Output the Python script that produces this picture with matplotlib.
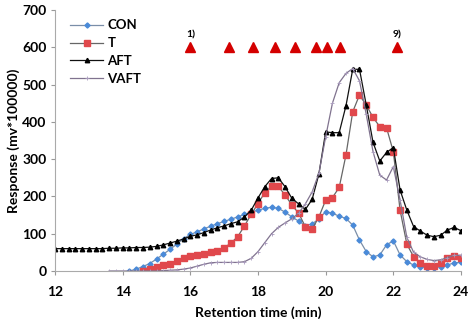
import numpy as np
import matplotlib
matplotlib.use("Agg")
import matplotlib.pyplot as plt

plt.rcParams['font.family'] = ['Lato', 'DejaVu Sans']
plt.rcParams['font.weight'] = 'bold'

# retention time grids (min)
t_con = np.round(np.arange(14.2, 24.01, 0.2), 1)
t_t = np.round(np.arange(14.6, 24.01, 0.2), 1)
t_aft = np.round(np.arange(12.0, 24.01, 0.2), 1)
t_vaft = np.round(np.arange(13.6, 24.01, 0.2), 1)

# responses (mv*100000)
con = [0, 5, 12, 20, 32, 45, 58, 72, 87, 98,
       105, 113, 120, 127, 133, 139, 145, 152, 158, 163,
       168, 171, 168, 158, 145, 134, 122, 126, 140, 159,
       155, 147, 141, 123, 83, 52, 38, 43, 70, 81,
       43, 25, 16, 12, 8, 8, 12, 16, 22, 23]
t_resp = [0, 6, 10, 16, 20, 27, 35, 41, 44, 46,
          50, 54, 62, 75, 92, 121, 152, 181, 210, 228,
          227, 204, 177, 155, 119, 112, 145, 190, 197, 224,
          311, 427, 472, 445, 412, 387, 384, 320, 163, 72,
          38, 22, 13, 13, 22, 35, 40, 36]
aft = [60, 60, 60, 60, 60, 60, 60, 60, 61, 61,
       62, 62, 63, 63, 64, 66, 70, 75, 80, 86,
       93, 97, 103, 110, 116, 121, 127, 132, 145, 163,
       196, 226, 248, 250, 226, 195, 180, 165, 192, 260,
       373, 371, 371, 443, 541, 541, 445, 345, 295, 318,
       331, 217, 163, 119, 107, 96, 92, 96, 110, 117, 108]
vaft = [0, 0, 0, 0, 0, 0, 0, 0, 1, 2,
        3, 5, 8, 13, 18, 22, 23, 23, 23, 23,
        25, 34, 52, 76, 100, 117, 129, 140, 155, 180,
        212, 262, 360, 450, 505, 530, 543, 510, 420, 320,
        257, 244, 280, 190, 90, 50, 38, 31, 28, 30,
        36, 42, 42]

# fraction markers at the top
frac_t = [16.0, 17.15, 17.85, 18.5, 19.1, 19.7, 20.05, 20.42, 22.1]
frac_level = 600

fig = plt.figure(figsize=(4.73, 3.28), dpi=100)
ax = fig.add_axes([0.1163, 0.1738, 0.8583, 0.7957])

ax.plot(t_con, con, color='#7a8ea8', lw=0.9, marker='D', ms=2.6,
        mfc='#4a8ad8', mec='#4a8ad8', label='CON')
ax.plot(t_t, t_resp, color='#666666', lw=0.9, marker='s', ms=3.8,
        mfc='#e0484c', mec='#e0484c', label='T')
ax.plot(t_aft, aft, color='#111111', lw=0.9, marker='^', ms=3.2,
        mfc='black', mec='black', label='AFT')
ax.plot(t_vaft, vaft, color='#80738f', lw=0.9, marker='+', ms=3,
        mec='#a99bbd', mew=0.6, label='VAFT')

ax.plot(frac_t, [frac_level] * len(frac_t), ls='none', marker='^',
        ms=7, color='#d40000')
ax.text(frac_t[0], frac_level + 22, '1)', ha='center', va='bottom', fontsize=7.5)
ax.text(frac_t[-1], frac_level + 22, '9)', ha='center', va='bottom', fontsize=7.5)

ax.set_xlim(12, 24)
ax.set_ylim(0, 700)
ax.set_xticks(range(12, 25, 2))
ax.set_yticks(range(0, 701, 100))
ax.tick_params(labelsize=10, length=3, color='#999999', pad=8)
ax.tick_params(axis='y', pad=3)
for s in ['top', 'right']:
    ax.spines[s].set_visible(False)
for s in ['left', 'bottom']:
    ax.spines[s].set_color('#aaaaaa')
    ax.spines[s].set_linewidth(0.8)

ax.set_xlabel('Retention time (min)', fontsize=10, fontweight='bold', labelpad=6)
ax.set_ylabel('Response (mv*100000)', fontsize=10, fontweight='bold', labelpad=2)

leg = ax.legend(loc='upper left', bbox_to_anchor=(0.015, 1.0), frameon=False,
                fontsize=9.5, handlelength=2.5, handletextpad=0.3,
                labelspacing=0.45, borderaxespad=0.3)

fig.savefig('out.png', dpi=100)
